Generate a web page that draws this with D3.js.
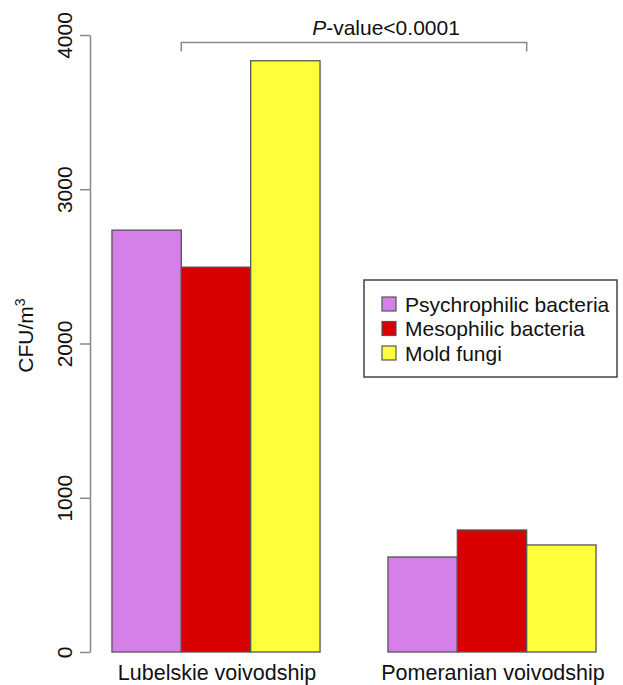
<!DOCTYPE html>
<html>
<head>
<meta charset="utf-8">
<script src="https://cdn.jsdelivr.net/npm/d3@7"></script>
<style>
  body { margin: 0; background: #fff; }
  text { font-family: "Liberation Sans", Arial, sans-serif; fill: #111; }
</style>
</head>
<body>
<svg width="623" height="685"></svg>
<script>
var regions = ["Lubelskie voivodship", "Pomeranian voivodship"];
var groups = ["Psychrophilic bacteria", "Mesophilic bacteria", "Mold fungi"];
var psychro = [2735, 616];
var meso = [2495, 791];
var mold = [3833, 694];
var yTicks = [0, 1000, 2000, 3000, 4000];
var colors = ["#d580e8", "#d90000", "#ffff3c"];

var svg = d3.select("svg");

var values = [psychro, meso, mold];
var rows = regions.map(function(r, i) {
  return { region: r, vals: groups.map(function(g, j) { return { key: g, value: values[j][i], idx: j }; }) };
});

var y = d3.scaleLinear().domain([0, 4000]).range([652, 35]);

var x0 = d3.scaleBand().domain(regions).range([78, 630])
    .paddingInner(0.246).paddingOuter(0.123);
var x1 = d3.scaleBand().domain(groups).range([0, x0.bandwidth()]);

// y axis, R style
var yAxis = svg.append("g")
    .attr("transform", "translate(90,0)")
    .call(d3.axisLeft(y).tickValues(yTicks).tickFormat(d3.format("d")).tickSize(10).tickSizeOuter(0));
yAxis.select(".domain").attr("stroke", "#888").attr("stroke-width", 1.5);
yAxis.selectAll(".tick line").attr("stroke", "#888").attr("stroke-width", 1.5);
yAxis.selectAll(".tick text")
    .attr("transform", "rotate(-90)")
    .attr("x", 0).attr("y", -18)
    .attr("dy", 0)
    .style("text-anchor", "middle")
    .style("font-size", "21px")
    .style("font-family", "Liberation Sans, Arial, sans-serif")
    .attr("fill", "#111");

svg.append("text")
    .attr("transform", "translate(33," + (y(2000) - 8) + ") rotate(-90)")
    .style("text-anchor", "middle")
    .style("font-size", "21px")
    .html("CFU/m<tspan dy='-8' font-size='14px'>3</tspan>");

// bars
var g = svg.append("g").selectAll("g")
    .data(rows)
    .enter().append("g")
      .attr("transform", function(d) { return "translate(" + x0(d.region) + ",0)"; });

g.selectAll("rect")
    .data(function(d) { return d.vals; })
    .enter().append("rect")
      .attr("x", function(d) { return x1(d.key); })
      .attr("y", function(d) { return y(d.value); })
      .attr("width", x1.bandwidth())
      .attr("height", function(d) { return y(0) - y(d.value); })
      .attr("fill", function(d) { return colors[d.idx]; })
      .attr("stroke", "#555")
      .attr("stroke-width", 1.3);

// category labels
svg.selectAll(".cat")
    .data(regions)
    .enter().append("text")
      .attr("class", "cat")
      .attr("x", function(d) { return x0(d) + x0.bandwidth() / 2 + 1; })
      .attr("y", 680)
      .style("text-anchor", "middle")
      .style("font-size", "21.5px")
      .text(function(d) { return d; });

// significance bracket
var bx1 = x0(regions[0]) + x1(groups[1]);
var bx2 = x0(regions[1]) + x1(groups[2]);
var by = 42.5;
svg.append("path")
    .attr("d", "M" + bx1 + "," + (by + 9) + "V" + by + "H" + bx2 + "V" + (by + 9))
    .attr("fill", "none")
    .attr("stroke", "#888")
    .attr("stroke-width", 1.5);
var pt = svg.append("text")
    .attr("x", (bx1 + bx2) / 2 + 32)
    .attr("y", 35)
    .style("text-anchor", "middle")
    .style("font-size", "21px");
pt.append("tspan").style("font-style", "italic").text("P");
pt.append("tspan").text("-value<0.0001");

// legend
var lg = svg.append("g").attr("transform", "translate(364,280)");
lg.append("rect")
    .attr("width", 253).attr("height", 97)
    .attr("fill", "#fff")
    .attr("stroke", "#444").attr("stroke-width", 1.5);
var li = lg.selectAll(".li")
    .data(groups)
    .enter().append("g")
      .attr("transform", function(d, i) { return "translate(18," + (24 + i * 24.5) + ")"; });
li.append("rect")
    .attr("x", 0).attr("y", -7)
    .attr("width", 14).attr("height", 14)
    .attr("fill", function(d, i) { return colors[i]; })
    .attr("stroke", "#555").attr("stroke-width", 1.2);
li.append("text")
    .attr("x", 23).attr("y", 7.5)
    .style("font-size", "21px")
    .text(function(d) { return d; });
</script>
</body>
</html>
